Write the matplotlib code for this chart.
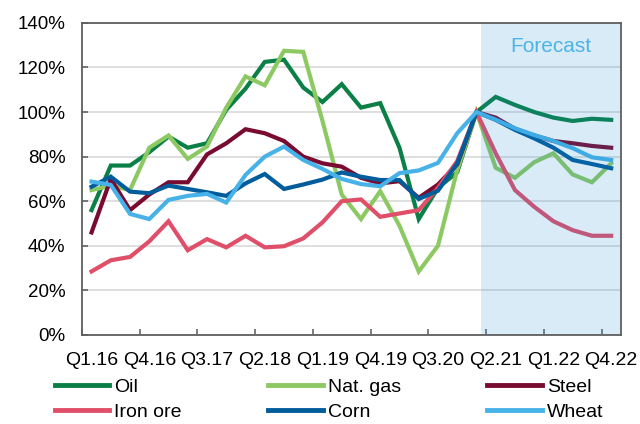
import matplotlib
matplotlib.use("Agg")
import matplotlib.pyplot as plt
import numpy as np

plt.rcParams['font.family'] = ['Liberation Sans', 'DejaVu Sans']

quarters = [f"Q{q}.{y}" for y in range(16, 23) for q in range(1, 5)]
tick_labels = quarters[::3]

oil = [56, 76, 76, 82, 89, 84, 86, 101, 110.5, 122.5, 123.5, 111, 104.5, 112.5, 102, 104,
       84, 52, 66, 73, 100, 106.8, 103.2, 100, 97.5, 96, 97, 96.5]
nat_gas = [65, 67, 65, 84, 89.5, 79, 84.5, 102, 116, 112, 127.5, 127, 96, 63, 52, 64.5,
           49, 28.5, 40, 74, 100, 75, 70.5, 77.5, 81.5, 72, 68.5, 77]
steel = [46, 70, 56, 63, 68.5, 68.5, 81, 86, 92.3, 90.5, 87, 80, 77, 75.5, 70.5, 68,
         69, 61.5, 67.5, 76.5, 100, 97.5, 92.5, 89.5, 87, 86, 84.8, 84]
iron_ore = [28.5, 33.5, 35, 42, 51, 38, 43, 39.3, 44.5, 39.3, 39.8, 43.3, 50.5, 60, 60.8, 53,
            54.5, 56, 66, 78, 100, 81.5, 65, 57.5, 51, 47, 44.5, 44.5]
corn = [66.5, 71, 64.3, 63.6, 67, 65.5, 64, 62.4, 68, 72.2, 65.5, 67.5, 69.7, 72.9, 71, 69.5,
        69.5, 61, 64.7, 77, 100, 96.5, 92, 88.2, 84, 78.5, 76.7, 74.8]
wheat = [68.8, 67.3, 54.3, 52, 60.6, 62.4, 63.3, 59.4, 71.8, 80, 84.5, 78.5, 74.5, 70, 67.7, 66.7,
         72.6, 73.8, 77.2, 90.5, 100, 96.6, 92.7, 89.7, 87, 83.8, 79.7, 78.5]

series = [
    ("Oil", oil, "#0b8046"),
    ("Nat. gas", nat_gas, "#8dc963"),
    ("Steel", steel, "#7a0b30"),
    ("Iron ore", iron_ore, "#e04f69"),
    ("Corn", corn, "#015c9c"),
    ("Wheat", wheat, "#47b2e8"),
]

fig = plt.figure(figsize=(6.4, 4.24), dpi=100)
ax = fig.add_axes([0.128, 0.210, 0.842, 0.736])

x = np.arange(len(quarters))
handles = {}
for name, vals, col in series:
    ln, = ax.plot(x, vals, color=col, lw=3.0, solid_joinstyle='miter', zorder=3, label=name)
    handles[name] = ln

# forecast shading drawn over the lines (tints them like the original)
ax.axvspan(20.23, 27.5, color="#1888d3", alpha=0.16, lw=0, zorder=4)
ax.text(23.85, 129.5, "Forecast", color="#4cb3e6", fontsize=15, ha='center', va='center', zorder=5)

ax.set_xlim(-0.5, 27.5)
ax.set_ylim(0, 140)
ax.set_yticks(np.arange(0, 141, 20))
ax.set_yticklabels([f"{v}%" for v in range(0, 141, 20)])
ax.yaxis.grid(True, color="#d9d9d9", lw=1.2, zorder=0)
ax.set_axisbelow(True)

ax.set_xticks(np.arange(-0.5, 27, 3))
ax.set_xticklabels([])
ax.set_xticks(np.arange(0, 28, 3), minor=True)
ax.set_xticklabels(tick_labels, minor=True)
ax.tick_params(axis='x', which='major', direction='in', length=4, width=1.1, color='#595959')
ax.tick_params(axis='x', which='minor', length=0, pad=12, labelsize=14)
ax.tick_params(axis='y', which='major', direction='in', length=4, width=1.1, color='#595959',
               pad=12, labelsize=13.5)

for sp in ax.spines.values():
    sp.set_color('#5f5f5f')
    sp.set_linewidth(1.3)
    sp.set_zorder(6)

order = ["Oil", "Iron ore", "Nat. gas", "Corn", "Steel", "Wheat"]
leg = fig.legend([handles[n] for n in order], order, ncol=3, loc='upper left',
                 bbox_to_anchor=(0.086, 0.108), frameon=False, fontsize=14,
                 handlelength=2.8, handletextpad=0.25, columnspacing=4.45,
                 labelspacing=0.38, borderaxespad=0, borderpad=0)
for h in leg.get_lines():
    h.set_linewidth(3.5)

fig.savefig("out.png", dpi=100)
